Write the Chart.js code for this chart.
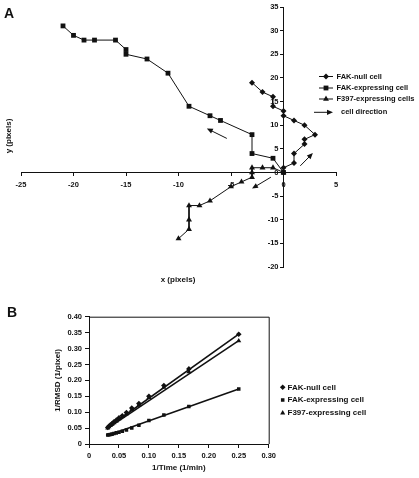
<!DOCTYPE html>
<html>
<head>
<meta charset="utf-8">
<script src="https://cdn.jsdelivr.net/npm/chart.js@4.4.0/dist/chart.umd.min.js"></script>
<style>
  body { margin: 0; background: #fff; }
  #wrap { position: relative; width: 419px; height: 478px; font-family: "Liberation Sans", Arial, sans-serif; }
  canvas { position: absolute; left: 0; }
  #chartA { top: 0; }
  #chartB { top: 290px; }
  .panel { position: absolute; font-weight: bold; font-size: 14px; line-height: 14px; color: #111; }
</style>
</head>
<body>
<div id="wrap">
  <canvas id="chartA" width="419" height="290"></canvas>
  <canvas id="chartB" width="419" height="188"></canvas>
  <div class="panel" style="left:4px;top:6px">A</div>
  <div class="panel" style="left:7px;top:305px">B</div>
</div>
<script>
// Panel A: cell tracks (pixels)
const nullX = [0, 0, 1, 1, 2, 2, 3, 2, 1, 0, 0, -1, -1, -2, -3];
const nullY = [0, 1, 2, 4, 6, 7, 8, 10, 11, 12, 13, 14, 16, 17, 19];
const expX = [0, -1, -3, -3, -6, -7, -9, -11, -13, -15, -15, -16, -18, -19, -20, -21];
const expY = [0, 3, 4, 8, 11, 12, 14, 21, 24, 25, 26, 28, 28, 28, 29, 31];
const f397X = [0, -1, -2, -3, -3, -3, -4, -5, -7, -8, -9, -9, -9, -10];
const f397Y = [0, 1, 1, 1, 0, -1, -2, -3, -6, -7, -7, -10, -12, -14];

// cell direction arrows (tail -> head, in pixels)
const arrowFrom = [[-5.4, 7.2], [1.6, 1.4], [-1.2, -1.0]];
const arrowTo = [[-7.3, 9.3], [2.8, 4.1], [-3.0, -3.4]];

// Panel B: 1/RMSD against 1/Time
const invTime = [0.25, 0.1667, 0.125, 0.1, 0.0833, 0.0714, 0.0625, 0.0556, 0.05, 0.0455, 0.0417, 0.0385, 0.0357, 0.0333, 0.0313];
const nullRmsd = [0.345, 0.236, 0.184, 0.150, 0.127, 0.113, 0.099, 0.089, 0.082, 0.075, 0.070, 0.064, 0.060, 0.056, 0.052];
const expRmsd = [0.173, 0.118, 0.091, 0.074, 0.059, 0.050, 0.044, 0.040, 0.037, 0.035, 0.033, 0.031, 0.030, 0.029, 0.028];
const f397Rmsd = [0.324, 0.227, 0.178, 0.146, 0.122, 0.108, 0.095, 0.086, 0.079, 0.072, 0.067, 0.062, 0.058, 0.054, 0.050];
// trend lines
const fitX = [0.031, 0.25];
const nullFit = [0.051, 0.345];
const expFit = [0.027, 0.173];
const f397Fit = [0.049, 0.325];

const INK = '#111';
const FONT = '"Liberation Sans", Arial, sans-serif';
Chart.defaults.font.family = FONT;
Chart.defaults.color = INK;

function pts(xs, ys) {
    return xs.map((x, i) => ({ x: x, y: ys[i] }));
}

function drawArrow(ctx, x1, y1, x2, y2) {
    const a = Math.atan2(y2 - y1, x2 - x1);
    const len = 6, w = 2.6;
    ctx.beginPath();
    ctx.moveTo(x1, y1);
    ctx.lineTo(x2 - len * 0.8 * Math.cos(a), y2 - len * 0.8 * Math.sin(a));
    ctx.stroke();
    ctx.beginPath();
    ctx.moveTo(x2, y2);
    ctx.lineTo(x2 - len * Math.cos(a) + w * Math.sin(a), y2 - len * Math.sin(a) - w * Math.cos(a));
    ctx.lineTo(x2 - len * Math.cos(a) - w * Math.sin(a), y2 - len * Math.sin(a) + w * Math.cos(a));
    ctx.closePath();
    ctx.fill();
}

// y tick labels, arrows, axis titles and legend of panel A
const extrasA = {
    id: 'extrasA',
    afterDraw(chart) {
        const ctx = chart.ctx;
        const sx = chart.scales.x, sy = chart.scales.y;
        ctx.save();
        ctx.strokeStyle = INK;
        ctx.fillStyle = INK;
        ctx.lineWidth = 1;

        // the crossing y axis keeps its labels to the left of the line
        const axisX = sx.getPixelForValue(0);
        ctx.font = 'bold 7.5px ' + FONT;
        ctx.textAlign = 'right';
        ctx.textBaseline = 'middle';
        sy.ticks.forEach(t => {
            ctx.fillText(t.label, axisX - 5, sy.getPixelForValue(t.value));
        });

        arrowFrom.forEach((p, i) => {
            const q = arrowTo[i];
            drawArrow(ctx, sx.getPixelForValue(p[0]), sy.getPixelForValue(p[1]),
                sx.getPixelForValue(q[0]), sy.getPixelForValue(q[1]));
        });

        ctx.font = 'bold 8px ' + FONT;
        ctx.textAlign = 'center';
        ctx.fillText('x (pixels)', 178, 280);
        ctx.save();
        ctx.translate(8.5, 136);
        ctx.rotate(-Math.PI / 2);
        ctx.fillText('y (pixels)', 0, 0);
        ctx.restore();

        // legend
        const rows = [76.5, 88, 99, 112.3];
        ctx.font = 'bold 7.5px ' + FONT;
        ctx.textAlign = 'left';
        chart.data.datasets.forEach((ds, i) => {
            const y = rows[i];
            ctx.beginPath();
            ctx.moveTo(319, y);
            ctx.lineTo(333, y);
            ctx.stroke();
            Chart.helpers.drawPoint(ctx, { pointStyle: ds.pointStyle, radius: ds.pointRadius, borderWidth: 0, rotation: 0 }, 326, y);
            ctx.fillText(ds.label, 336.5, y);
        });
        drawArrow(ctx, 314, rows[3], 333, rows[3]);
        ctx.fillText('cell direction', 341, rows[3]);
        ctx.restore();
    }
};

// frame and legend of panel B
const extrasB = {
    id: 'extrasB',
    afterDraw(chart) {
        const ctx = chart.ctx;
        const a = chart.chartArea;
        ctx.save();
        ctx.strokeStyle = INK;
        ctx.fillStyle = INK;
        ctx.lineWidth = 1;
        ctx.beginPath();
        ctx.moveTo(a.left, a.top + 0.5);
        ctx.lineTo(a.right + 0.5, a.top + 0.5);
        ctx.lineTo(a.right + 0.5, a.bottom);
        ctx.stroke();

        const rows = [97.3, 110, 123];
        ctx.font = 'bold 8px ' + FONT;
        ctx.textAlign = 'left';
        ctx.textBaseline = 'middle';
        chart.data.datasets.slice(0, 3).forEach((ds, i) => {
            Chart.helpers.drawPoint(ctx, { pointStyle: ds.pointStyle, radius: ds.pointRadius, borderWidth: 0, rotation: 0 }, 282.7, rows[i]);
            ctx.fillText(ds.label, 287.5, rows[i]);
        });
        ctx.restore();
    }
};

const tickFont = { size: 7.5, weight: 'bold' };

new Chart(document.getElementById('chartA'), {
    type: 'scatter',
    data: {
        datasets: [
            { label: 'FAK-null cell', data: pts(nullX, nullY), pointStyle: 'rectRot', pointRadius: 3, showLine: true },
            { label: 'FAK-expressing cell', data: pts(expX, expY), pointStyle: 'rect', pointRadius: 3.4, showLine: true },
            { label: 'F397-expressing cells', data: pts(f397X, f397Y), pointStyle: 'triangle', pointRadius: 3.4, showLine: true }
        ].map(d => Object.assign(d, { borderColor: INK, backgroundColor: INK, borderWidth: 1, pointBorderWidth: 0 }))
    },
    options: {
        responsive: false,
        animation: false,
        events: [],
        layout: { padding: { left: 21, right: 83, top: 7, bottom: 23 } },
        plugins: { legend: { display: false }, tooltip: { enabled: false } },
        scales: {
            x: {
                type: 'linear', position: { y: 0 }, min: -25, max: 5,
                ticks: { stepSize: 5, font: tickFont, padding: 5, maxRotation: 0 },
                grid: { drawOnChartArea: false, tickLength: 3, color: INK },
                border: { color: INK, width: 1 }
            },
            y: {
                type: 'linear', position: { x: 0 }, min: -20, max: 35,
                ticks: { stepSize: 5, display: false },
                grid: { drawOnChartArea: false, tickLength: 3, color: INK },
                border: { color: INK, width: 1 }
            }
        }
    },
    plugins: [extrasA]
});

new Chart(document.getElementById('chartB'), {
    type: 'scatter',
    data: {
        datasets: [
            { label: 'FAK-null cell', data: pts(invTime, nullRmsd), pointStyle: 'rectRot', pointRadius: 2.8 },
            { label: 'FAK-expressing cell', data: pts(invTime, expRmsd), pointStyle: 'rect', pointRadius: 2.5 },
            { label: 'F397-expressing cell', data: pts(invTime, f397Rmsd), pointStyle: 'triangle', pointRadius: 2.9 },
            { label: 'fit null', data: pts(fitX, nullFit), showLine: true, pointRadius: 0, borderWidth: 1.6 },
            { label: 'fit exp', data: pts(fitX, expFit), showLine: true, pointRadius: 0, borderWidth: 1.6 },
            { label: 'fit f397', data: pts(fitX, f397Fit), showLine: true, pointRadius: 0, borderWidth: 1.6 }
        ].map(d => Object.assign({ borderColor: INK, backgroundColor: INK, pointBorderWidth: 0 }, d))
    },
    options: {
        responsive: false,
        animation: false,
        events: [],
        layout: { padding: { left: 50, right: 150.3, top: 26.7, bottom: 0 } },
        plugins: { legend: { display: false }, tooltip: { enabled: false } },
        scales: {
            x: {
                type: 'linear', min: 0, max: 0.3,
                ticks: { stepSize: 0.05, font: tickFont, padding: 3, maxRotation: 0 },
                grid: { drawOnChartArea: false, tickLength: 4, color: INK },
                border: { color: INK, width: 1 },
                title: { display: true, text: '1/Time (1/min)', font: { size: 8, weight: 'bold' }, padding: { top: 0, bottom: 5 } },
                afterFit(s) { s.height = 34; }
            },
            y: {
                type: 'linear', min: 0, max: 0.4,
                ticks: { stepSize: 0.05, font: tickFont, padding: 3 },
                grid: { drawOnChartArea: false, tickLength: 4, color: INK },
                border: { color: INK, width: 1 },
                title: { display: true, text: '1/RMSD (1/pixel)', font: { size: 8, weight: 'bold' }, padding: { top: 3, bottom: 0 } },
                afterFit(s) { s.width = 39; }
            }
        }
    },
    plugins: [extrasB]
});
</script>
</body>
</html>
